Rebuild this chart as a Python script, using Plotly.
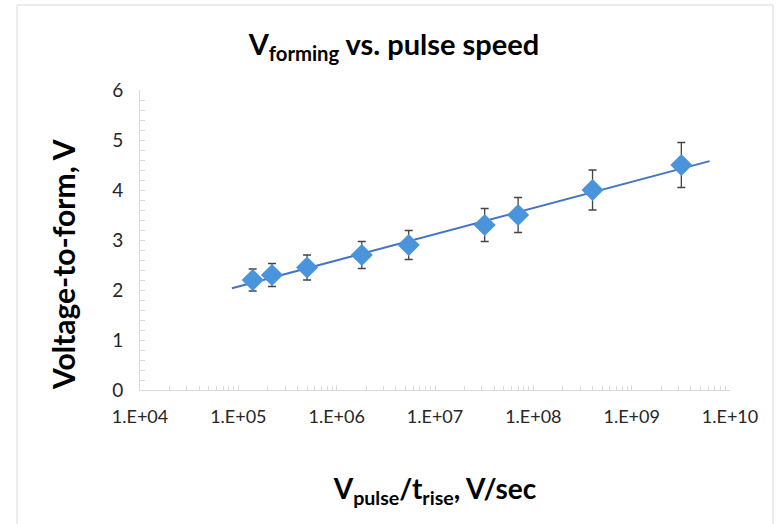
import numpy as np
import plotly.graph_objects as go

# Ramp rate of the forming pulse (V/sec) and the voltage at which forming occurred
ramp_rate = [1.4e5, 2.2e5, 5.0e5, 1.8e6, 5.4e6, 3.2e7, 7.0e7, 4.0e8, 3.2e9]
v_forming = [2.2, 2.3, 2.45, 2.7, 2.9, 3.3, 3.5, 4.0, 4.5]
v_error = [0.22, 0.23, 0.25, 0.27, 0.29, 0.33, 0.35, 0.40, 0.45]

# Span covered by the logarithmic trendline
trend_span = [8.6e4, 6.2e9]

x_tick_vals = [1e4, 1e5, 1e6, 1e7, 1e8, 1e9, 1e10]
x_tick_text = ["1.E+04", "1.E+05", "1.E+06", "1.E+07", "1.E+08", "1.E+09", "1.E+10"]
y_tick_vals = [0, 1, 2, 3, 4, 5, 6]

# Logarithmic fit: V = a + b*log10(rate)
b, a = np.polyfit(np.log10(ramp_rate), v_forming, 1)
trend_x = np.logspace(np.log10(trend_span[0]), np.log10(trend_span[1]), 50)
trend_y = a + b * np.log10(trend_x)

FONT = "Lato"
AXIS_GREY = "#d9d9d9"

fig = go.Figure()

fig.add_trace(go.Scatter(
    x=trend_x, y=trend_y, mode="lines",
    line=dict(color="#4472c4", width=2),
    hoverinfo="skip", showlegend=False,
))

fig.add_trace(go.Scatter(
    x=ramp_rate, y=v_forming, mode="markers",
    marker=dict(symbol="diamond", size=17, color="#4a94dc",
                line=dict(width=0)),
    error_y=dict(type="data", array=v_error, visible=True,
                 color="#444444", thickness=1.3, width=4),
    showlegend=False,
))

fig.update_layout(
    width=777, height=524,
    margin=dict(l=140, r=47, t=90, b=134),
    paper_bgcolor="white", plot_bgcolor="white",
    font=dict(family=FONT, color="#404040"),
    title=dict(
        text="<b>V<sub>forming</sub> vs. pulse speed</b>",
        x=0.507, xref="container", xanchor="center",
        y=0.915, yref="container", yanchor="middle",
        font=dict(family=FONT, size=29, color="#000000"),
    ),
    showlegend=False,
)

fig.update_xaxes(
    type="log", range=[4, 10],
    tickvals=x_tick_vals, ticktext=x_tick_text,
    tickfont=dict(family=FONT, size=18, color="#262626"),
    showgrid=False, zeroline=False,
    showline=True, linecolor=AXIS_GREY, linewidth=1,
    ticks="inside", ticklen=5, tickcolor=AXIS_GREY,
    minor=dict(ticks="inside", ticklen=4, tickcolor=AXIS_GREY, dtick="D1", showgrid=False),
    ticklabelstandoff=10,
    title=dict(
        text="<b>V<sub>pulse</sub>/t<sub>rise</sub>, V/sec</b>",
        font=dict(family=FONT, size=28, color="#000000"),
        standoff=53,
    ),
)

fig.update_yaxes(
    range=[0, 6],
    tickvals=y_tick_vals,
    tickfont=dict(family=FONT, size=19, color="#262626"),
    showgrid=False, zeroline=False,
    showline=True, linecolor=AXIS_GREY, linewidth=1,
    ticks="inside", ticklen=5, tickcolor=AXIS_GREY,
    minor=dict(ticks="inside", ticklen=5, tickcolor=AXIS_GREY, dtick=0.2, showgrid=False),
    ticklabelstandoff=12,
)

# Vertical axis title, placed a little below the plot-area centre
fig.add_annotation(
    text="<b>Voltage-to-form, V</b>",
    xref="paper", yref="paper",
    x=(63 - 140) / 590, y=(390 - 265) / 300,
    xanchor="center", yanchor="middle", textangle=-90,
    showarrow=False,
    font=dict(family=FONT, size=30, color="#000000"),
)

# Chart-area border
fig.add_shape(
    type="rect", xref="paper", yref="paper",
    x0=(17 - 140) / 590, x1=(773 - 140) / 590,
    y0=-0.5, y1=(390 - 5) / 300,
    line=dict(color=AXIS_GREY, width=1), fillcolor="rgba(0,0,0,0)",
    layer="below",
)

fig.write_html("out.html")
